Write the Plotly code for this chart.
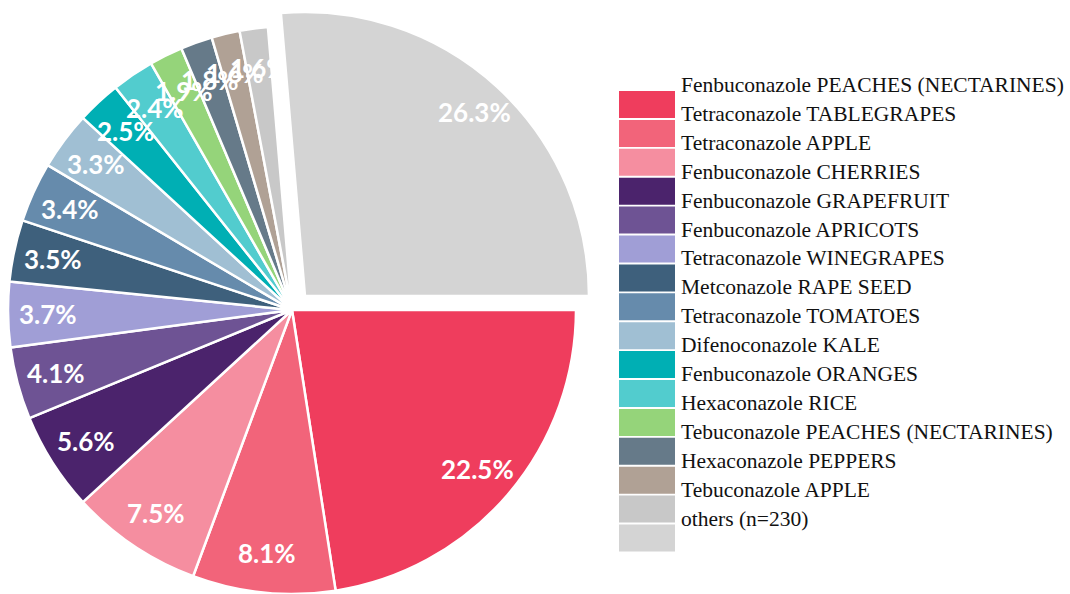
import math
import plotly.graph_objects as go

# Share of residue findings by fungicide / commodity (percent)
labels = [
    "Fenbuconazole PEACHES (NECTARINES)",
    "Tetraconazole TABLEGRAPES",
    "Tetraconazole APPLE",
    "Fenbuconazole CHERRIES",
    "Fenbuconazole GRAPEFRUIT",
    "Fenbuconazole APRICOTS",
    "Tetraconazole WINEGRAPES",
    "Metconazole RAPE SEED",
    "Tetraconazole TOMATOES",
    "Difenoconazole KALE",
    "Fenbuconazole ORANGES",
    "Hexaconazole RICE",
    "Tebuconazole PEACHES (NECTARINES)",
    "Hexaconazole PEPPERS",
    "Tebuconazole APPLE",
    "others (n=230)",
]
slice_values = [22.5, 8.1, 7.5, 5.6, 4.1, 3.7, 3.5, 3.4, 3.3, 2.5, 2.4, 1.9, 1.8, 1.6, 1.6]
others_value = 26.3

slice_colors = [
    "#EF3D5D", "#F2647A", "#F58EA0", "#4B236C", "#6E5394", "#A09ED6",
    "#3E607C", "#668BAC", "#A0BFD3", "#00AFB4", "#52CCCE", "#95D47A",
    "#667A89", "#B0A195", "#C8C8C8",
]
others_color = "#D4D4D4"

W, H = 1070, 594
PIE_CX, PIE_CY, PIE_R = 292, 310, 284     # pixel centre / radius of the pie
SHIFT_X, SHIFT_Y = 13, -14                # offset of the exploded "others" wedge
LABEL_FRAC, OTH_LABEL_FRAC = 0.86, 0.88   # label distance from centre, as share of radius

CLEAR = "rgba(0,0,0,0)"


def domain(cx, cy, r):
    return dict(x=[(cx - r) / W, (cx + r) / W],
                y=[1 - (cy + r) / H, 1 - (cy - r) / H])


main_dom = domain(PIE_CX, PIE_CY, PIE_R)
oth_dom = domain(PIE_CX + SHIFT_X, PIE_CY + SHIFT_Y, PIE_R)

all_values = slice_values + [others_value]
total = sum(all_values)
rest_total = sum(slice_values)

common = dict(sort=False, direction="clockwise", rotation=90,
              showlegend=False, hoverinfo="skip", textinfo="none")

fig = go.Figure()

# solid wedges (others left transparent here, drawn exploded below)
fig.add_trace(go.Pie(
    values=all_values, labels=labels, domain=main_dom,
    marker=dict(colors=slice_colors + [CLEAR],
                line=dict(color="white", width=[2.5] * len(slice_values) + [0])),
    **common))

# exploded "others" wedge
fig.add_trace(go.Pie(
    values=[rest_total, others_value], labels=["rest", labels[-1]], domain=oth_dom,
    marker=dict(colors=[CLEAR, others_color],
                line=dict(color="white", width=[0, 2.5])),
    **common))

# percentage labels, placed along each wedge's bisector (clockwise from 3 o'clock)
label_font = dict(family="Lato", size=26, color="white", weight="bold")
annotations = []
start = 0.0
for i, v in enumerate(all_values):
    mid = math.radians((start + v / 2) / total * 360)
    start += v
    if i == len(all_values) - 1:
        cx, cy, frac = PIE_CX + SHIFT_X, PIE_CY + SHIFT_Y, OTH_LABEL_FRAC
    else:
        cx, cy, frac = PIE_CX, PIE_CY, LABEL_FRAC
    px = cx + frac * PIE_R * math.cos(mid)
    py = cy + frac * PIE_R * math.sin(mid)
    annotations.append(dict(xref="paper", yref="paper", x=px / W, y=1 - py / H,
                            xanchor="center", yanchor="middle", showarrow=False,
                            text=f"{v:.1f}%", font=label_font))

# legend: colour keys with their names one row above
LEG_X0, LEG_X1 = 619, 675
ROW0, PITCH, KEY_H = 91, 28.9, 27
TEXT_X, TEXT_Y0 = 679, 85
shapes = []
key_colors = slice_colors + [others_color]
for i, c in enumerate(key_colors):
    top = ROW0 + i * PITCH
    shapes.append(dict(type="rect", xref="paper", yref="paper",
                       x0=LEG_X0 / W, x1=LEG_X1 / W,
                       y0=1 - (top + KEY_H) / H, y1=1 - top / H,
                       fillcolor=c, line=dict(width=0)))
for i, name in enumerate(labels):
    annotations.append(dict(xref="paper", yref="paper",
                            x=TEXT_X / W, y=1 - (TEXT_Y0 + i * PITCH) / H,
                            xanchor="left", yanchor="middle", showarrow=False,
                            text=name,
                            font=dict(family="Liberation Serif", size=21.5, color="#111111")))

fig.update_layout(
    width=W, height=H,
    margin=dict(l=0, r=0, t=0, b=0),
    paper_bgcolor="white", plot_bgcolor="white",
    shapes=shapes, annotations=annotations,
)

fig.write_html("out.html")
